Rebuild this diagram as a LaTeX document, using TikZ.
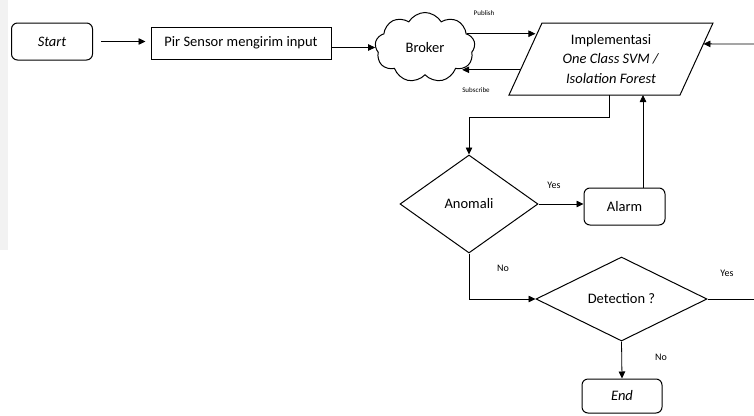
\documentclass[tikz,border=0pt]{standalone}
\usepackage{fontspec}
\setmainfont{Carlito}
\usetikzlibrary{shapes.geometric,shapes.symbols,arrows.meta,calc}

\begin{document}
\begin{tikzpicture}[x=1pt,y=-1pt,
  box/.style={draw,line width=1pt,inner sep=2pt,font=\fontsize{14.5}{17}\selectfont},
  term/.style={box,rounded corners=6pt,minimum width=81pt,minimum height=37pt},
  decide/.style={draw,diamond,line width=1pt,inner sep=0pt,font=\fontsize{14.5}{17}\selectfont},
  flow/.style={-{Triangle[length=7pt,width=6.5pt]},line width=0.8pt},
  line/.style={line width=0.8pt},
  small/.style={font=\fontsize{10}{12}\selectfont},
  tiny/.style={font=\fontsize{7}{8}\selectfont}]
 \useasboundingbox (0,0) rectangle (754,415);
 \fill[black!5] (0,0) rectangle (8,250);

 % top row
 \node[term,font=\fontsize{14.5}{17}\selectfont\itshape] (start) at (52,41.5) {Start};
 \node[box,minimum width=180pt,minimum height=32pt] (pir) at (241,43) {Pir Sensor mengirim input};
 \node[draw,cloud,cloud puffs=9,cloud puff arc=120,cloud ignores aspect,line width=1pt,minimum width=100pt,minimum height=70pt,inner sep=0pt,font=\fontsize{14.5}{17}\selectfont] (broker) at (425,47.5) {Broker};

 % the slanted box, corners first
 \coordinate (implTL) at (542,23);
 \coordinate (implTR) at (713,23);
 \coordinate (implBR) at (680,95);
 \coordinate (implBL) at (509,95);
 \draw[line width=1pt] (implTL) -- (implTR) -- (implBR) -- (implBL) -- cycle;
 \node[align=center,font=\fontsize{14.5}{19.5}\selectfont] (impl) at (611,59) {Implementasi\\ \textit{One Class SVM /}\\ \textit{Isolation Forest}};

 % decisions
 \node[decide,minimum width=138pt,minimum height=98pt] (anom) at (469,204) {Anomali};
 \node[term] (alarm) at (624.5,206.5) {Alarm};
 \node[decide,minimum width=171pt,minimum height=84pt] (det) at (621.5,299) {Detection ?};
 \node[term,minimum width=80pt,minimum height=34pt,font=\fontsize{14.5}{17}\selectfont\itshape] (end) at (622,396) {End};

 % points on the slanted sides and the picture edge
 \coordinate (pubin) at ($(implBL)!0.8!(implTL)$);
 \coordinate (subout) at ($(implBL)!0.35!(implTL)$);
 \coordinate (rinend) at ($(implBR)!0.71!(implTR)$);
 \coordinate (implbot) at (609,95);
 \coordinate (alarmin) at (643,95);
 \coordinate (rin) at (754,44);
 \coordinate (rout) at (754,299);

 % connectors
 \draw[flow] ([xshift=8pt]start.east) -- ([xshift=-5pt]start.east -| pir.west);
 \draw[flow] (pir.east |- broker.west) -- (broker.west);
 \draw[flow] (broker.18) -- (broker.18 -| pubin);
 \draw[flow] (subout) -- (subout -| broker.-30);
 \draw[flow] (rin) -- (rinend);
 \draw[flow] (implbot) -- ++(0,22) -| (anom.north);
 \draw[flow] (anom.east) -- (anom.east -| alarm.west);
 \draw[flow] (alarmin |- alarm.north) -- (alarmin);
 \draw[flow] (anom.south) |- (det.west);
 \draw[line] (det.east) -- (rout);
 \draw[flow] (det.south) -- (end.north);

 % labels
 \node[tiny] (pub) at (484,13) {Publish};
 \node[tiny] (sub) at (476,90) {Subscribe};
 \node[small] (yes1) at (554,185) {Yes};
 \node[small] (no1) at (503,268) {No};
 \node[small] (yes2) at (727,273) {Yes};
 \node[small] (no2) at (661,357) {No};
\end{tikzpicture}
\end{document}
